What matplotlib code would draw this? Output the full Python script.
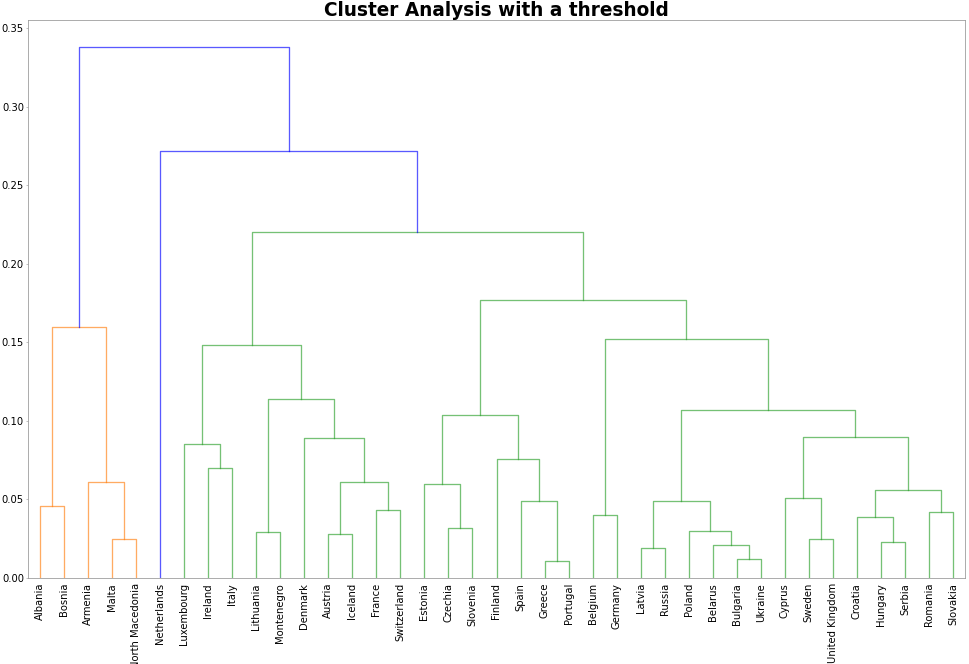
import numpy as np
import matplotlib
matplotlib.use("Agg")
import matplotlib.pyplot as plt

# leaves in the order they appear on the x axis
countries = ["Albania", "Bosnia", "Armenia", "Malta", "North Macedonia", "Netherlands",
             "Luxembourg", "Ireland", "Italy", "Lithuania", "Montenegro", "Denmark",
             "Austria", "Iceland", "France", "Switzerland", "Estonia", "Czechia",
             "Slovenia", "Finland", "Spain", "Greece", "Portugal", "Belgium", "Germany",
             "Latvia", "Russia", "Poland", "Belarus", "Bulgaria", "Ukraine", "Cyprus",
             "Sweden", "United Kingdom", "Croatia", "Hungary", "Serbia", "Romania",
             "Slovakia"]

# merges: left, right, height  (int = earlier merge, str = country)
merge_left = ["Greece", "Bulgaria", "Latvia", "Belarus", "Hungary", "Malta", "Sweden",
              "Austria", "Lithuania", "Poland", "Czechia", "Croatia", "Belgium", "Romania",
              "France", "Albania", "Spain", 2, "Cyprus", 11, "Estonia", 7, "Armenia",
              "Ireland", "Finland", "Luxembourg", "Denmark", 18, 20, 17, 8, 25, 12, 15,
              28, 31, "Netherlands", 33]
merge_right = ["Portugal", "Ukraine", "Russia", 1, "Serbia", "North Macedonia",
               "United Kingdom", "Iceland", "Montenegro", 3, "Slovenia", 4, "Germany",
               "Slovakia", "Switzerland", "Bosnia", 0, 9, 6, 13, 10, 14, 5, "Italy", 16,
               23, 21, 19, 24, 27, 26, 30, 29, 22, 32, 34, 35, 36]
merge_height = [0.011, 0.012, 0.019, 0.021, 0.023, 0.025, 0.025, 0.028, 0.029, 0.030,
                0.032, 0.039, 0.040, 0.042, 0.043, 0.046, 0.049, 0.049, 0.051, 0.056,
                0.060, 0.061, 0.061, 0.070, 0.076, 0.085, 0.089, 0.090, 0.104, 0.107,
                0.114, 0.148, 0.152, 0.160, 0.177, 0.220, 0.272, 0.338]

threshold = 0.7 * max(merge_height)
cluster_colors = ["C1", "C2", "C3", "C4"]


def node_pos(ref):
    if isinstance(ref, str):
        return 5 + 10 * countries.index(ref), 0.0
    x1, _ = node_pos(merge_left[ref])
    x2, _ = node_pos(merge_right[ref])
    return (x1 + x2) / 2, merge_height[ref]


# colour each merge by the cluster it belongs to under the threshold
link_color = [None] * len(merge_height)


def paint(ref, col):
    if isinstance(ref, str):
        return
    link_color[ref] = col
    paint(merge_left[ref], col)
    paint(merge_right[ref], col)


k = 0
for i in range(len(merge_height) - 1, -1, -1):
    if merge_height[i] >= threshold:
        link_color[i] = "b"
        for child in (merge_left[i], merge_right[i]):
            if not isinstance(child, str) and merge_height[child] < threshold:
                paint(child, cluster_colors[k % len(cluster_colors)])
                k += 1

fig, ax = plt.subplots(figsize=(969 / 72, 664 / 72), dpi=72)
fig.subplots_adjust(left=28 / 969, right=965 / 969, bottom=1 - 578 / 664, top=1 - 20.3 / 664)

for i in range(len(merge_height)):
    xl, yl = node_pos(merge_left[i])
    xr, yr = node_pos(merge_right[i])
    h = merge_height[i]
    ax.plot([xl, xl, xr, xr], [yl, h, h, yr], color=link_color[i], lw=1.3, alpha=0.65)

ax.set_xlim(0, 10 * len(countries))
ax.set_ylim(0, 0.355)
ax.set_xticks([5 + 10 * i for i in range(len(countries))])
ax.set_xticklabels(countries, rotation=90, fontsize=10)
ax.set_yticks(np.arange(0, 0.36, 0.05))
ax.set_yticklabels([f"{v:.2f}" for v in np.arange(0, 0.36, 0.05)], fontsize=10)
ax.tick_params(axis="x", length=0, pad=5)
ax.tick_params(axis="y", length=2, width=0.6, color="#999999", pad=2)
for s in ax.spines.values():
    s.set_color("#999999")
ax.set_title("Cluster Analysis with a threshold", fontsize=18.5, fontweight="bold", pad=0)

plt.savefig("out.png", dpi=72)
